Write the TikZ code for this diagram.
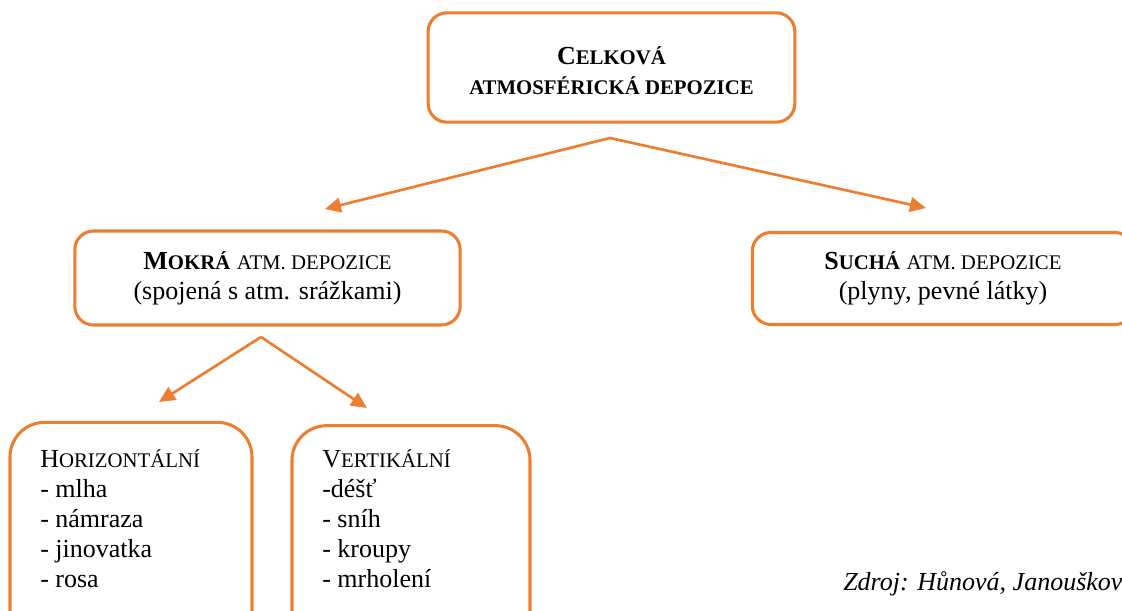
\documentclass[tikz,border=0pt]{standalone}
\usepackage{fontspec}
\setmainfont{Liberation Serif}
\usetikzlibrary{arrows.meta}
\definecolor{orng}{HTML}{ED7D31}
\newcommand\smc[1]{{\fontsize{15.6}{18}\selectfont #1}}
\tikzset{
  box/.style={draw=orng, line width=2.3pt, rounded corners=#1, inner sep=0pt},
  box/.default=14pt,
  txt/.style={font=\fontsize{19.5}{22.5}\selectfont, align=center, inner sep=0pt},
  lst/.style={font=\fontsize{19.5}{22.5}\selectfont, align=left, inner sep=0pt, anchor=north west},
  conn/.style={draw=orng, line width=2pt, -{Triangle[length=12pt,width=11pt]}},
}
\begin{document}
\begin{tikzpicture}[x=0.75pt,y=-0.75pt]
\useasboundingbox (0,0) rectangle (1122,611);
\clip (0,0) rectangle (1122,611);
% boxes
\node[box, minimum width=275pt, minimum height=82pt] (top) at (611.5,67.5) {};
\node[txt] (toptxt) at (611.5,71)
  {\textbf{C\smc{ELKOVÁ}}\\\textbf{\smc{ATMOSFÉRICKÁ DEPOZICE}}};
\node[box, minimum width=289pt, minimum height=70.5pt, txt] (mokra) at (267.5,278)
  {\textbf{M\smc{OKRÁ}} \smc{ATM. DEPOZICE}\\(spojená s atm. srážkami)};
\node[box, minimum width=286pt, minimum height=69pt, txt] (sucha) at (943,278.5)
  {\textbf{S\smc{UCHÁ}} \smc{ATM. DEPOZICE}\\(plyny, pevné látky)};
\node[box=26pt, minimum width=181.5pt, minimum height=172pt] (hor) at (131,537) {};
\node[box=26pt, minimum width=178.5pt, minimum height=170pt] (ver) at (411,539) {};
% list texts
\node[lst] (hortxt) at (40,449) {H\smc{ORIZONTÁLNÍ}\\- mlha\\- námraza\\- jinovatka\\- rosa};
\node[lst] (vertxt) at (322,449) {V\smc{ERTIKÁLNÍ}\\-déšť\\- sníh\\- kroupy\\- mrholení};
% source
\node[font=\fontsize{19.5}{22.5}\selectfont\itshape, anchor=base west, inner sep=0pt] (zdroj) at (843,590) {Zdroj: Hůnová, Janoušková};
% connector coordinates
\coordinate (a1) at (610,138);
\coordinate (a1l) at (325,209);
\coordinate (a1r) at (926,208);
\coordinate (a2) at (261,337);
\coordinate (a2l) at (159,402);
\coordinate (a2r) at (367,408);
\draw[conn] (a1) -- (a1l);
\draw[conn] (a1) -- (a1r);
\draw[conn] (a2) -- (a2l);
\draw[conn] (a2) -- (a2r);
\end{tikzpicture}
\end{document}
